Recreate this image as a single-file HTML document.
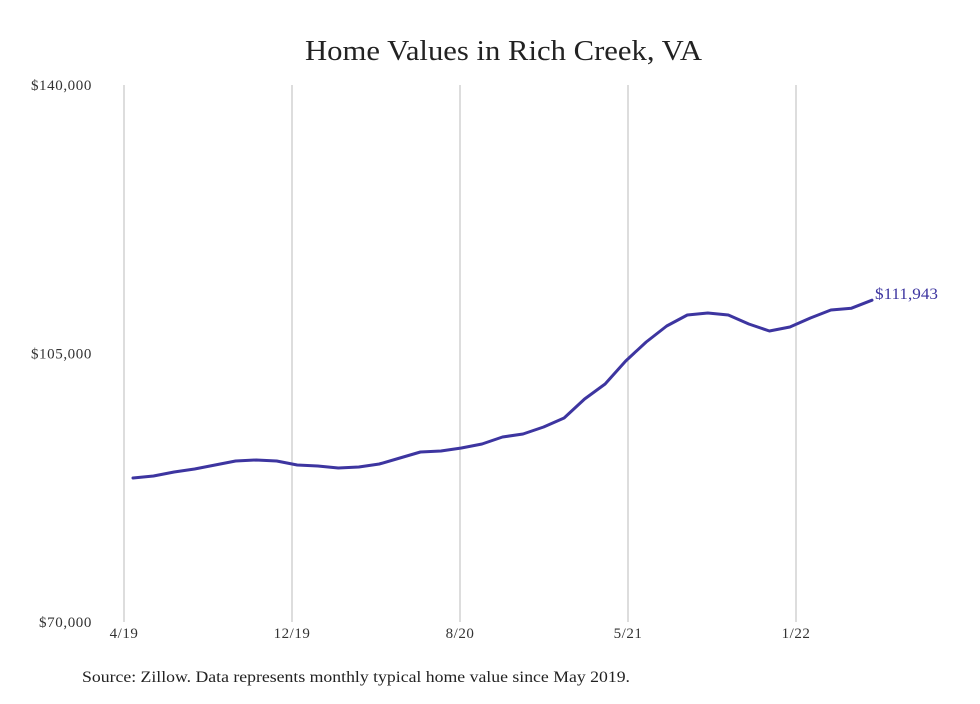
<!DOCTYPE html>
<html><head><meta charset="utf-8"><style>
body{margin:0;background:#fff;width:980px;height:699px;overflow:hidden;font-family:"Liberation Serif",serif;}
</style></head><body>
<svg width="980" height="699">
<text x="305" y="60" textLength="397" lengthAdjust="spacingAndGlyphs" font-size="29" fill="#222">Home Values in Rich Creek, VA</text>
<g id="grid"></g>
<g id="yax"></g>
<g id="xax"></g>
<path id="line" fill="none" stroke="#3d35a0" stroke-width="3" stroke-linejoin="round" stroke-linecap="round"/>
<text id="endlabel" font-size="16" textLength="63" lengthAdjust="spacingAndGlyphs" fill="#3d35a0"></text>
<text x="82" y="682" font-size="16" textLength="548" lengthAdjust="spacingAndGlyphs" fill="#222">Source: Zillow. Data represents monthly typical home value since May 2019.</text>
</svg>
<script>
const values=[88772,89033,89554,89945,90467,90988,91118,90988,90467,90336,90075,90206,90597,91379,92161,92292,92683,93204,94117,94508,95420,96593,99070,101026,104024,106501,108587,110020,110281,110020,108847,107935,108456,109629,110672,110900,111943];
const yTicks=[70000,105000,140000];
const yTickLabels=["$70,000","$105,000","$140,000"];
const xTickLabels=["4/19","12/19","8/20","5/21","1/22"];
const NS="http://www.w3.org/2000/svg";
const y0=622,y1=85,vmin=70000,vmax=140000;
const n=values.length;
const xs=i=>133+i*(872-133)/(n-1);
const ys=v=>y0-(v-vmin)/(vmax-vmin)*(y0-y1);
const grid=document.getElementById('grid'),yax=document.getElementById('yax'),xax=document.getElementById('xax');
yTicks.forEach((t,k)=>{
 const tx=document.createElementNS(NS,'text');
 
 
 tx.setAttribute('x',92);tx.setAttribute('y',ys(t)+5);tx.setAttribute('text-anchor','end');
 tx.setAttribute('font-size','15');tx.setAttribute('letter-spacing','0.6');tx.setAttribute('fill','#333');tx.textContent=yTickLabels[k];yax.appendChild(tx);
});
const gx=[124,292,460,628,796];
xTickLabels.forEach((l,k)=>{
 const ln=document.createElementNS(NS,'line');
 
 
 ln.setAttribute('x1',gx[k]);ln.setAttribute('x2',gx[k]);ln.setAttribute('y1',y1);ln.setAttribute('y2',y0);
 ln.setAttribute('stroke','#bbb');ln.setAttribute('stroke-width','1');grid.appendChild(ln);
 const tx=document.createElementNS(NS,'text');
 
 
 tx.setAttribute('x',gx[k]);tx.setAttribute('y',y0+16);tx.setAttribute('text-anchor','middle');
 tx.setAttribute('font-size','15');tx.setAttribute('letter-spacing','0.5');tx.setAttribute('fill','#333');tx.textContent=l;xax.appendChild(tx);
});
let d='';values.forEach((v,i)=>{d+=(i?'L':'M')+xs(i).toFixed(1)+','+ys(v).toFixed(1);});
document.getElementById('line').setAttribute('d',d);
const el=document.getElementById('endlabel');
el.setAttribute('x',xs(n-1)+3);el.setAttribute('y',ys(values[n-1])-1);
el.textContent='$'+values[n-1].toLocaleString('en-US');
</script>
</body></html>
